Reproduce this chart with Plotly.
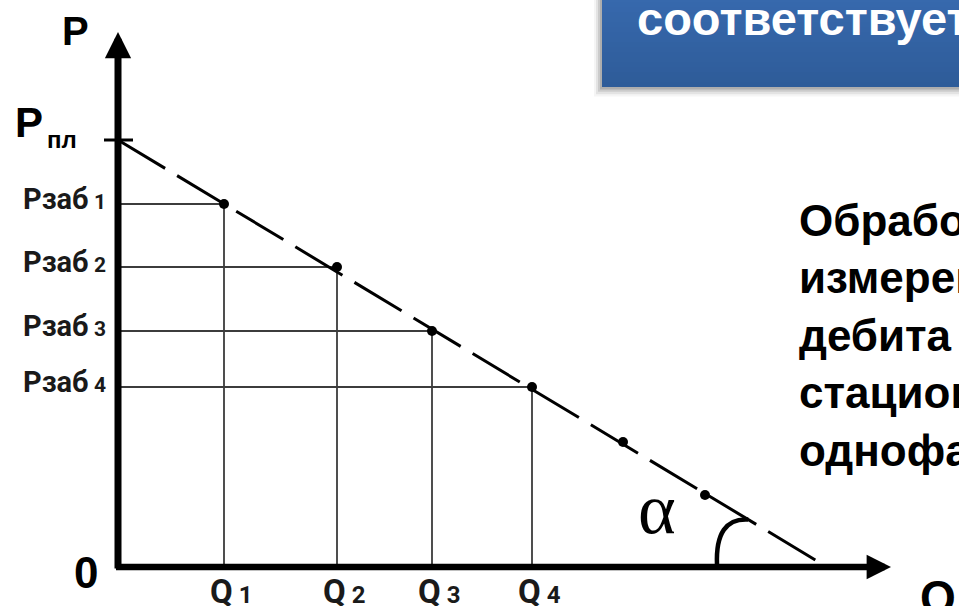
import plotly.graph_objects as go

# Indicator diagram: bottom-hole pressure vs. flow rate
q_points = [1.06, 2.19, 3.14, 4.14, 5.05, 5.87]
p_points = [3.63, 3.00, 2.36, 1.80, 1.25, 0.72]
p_res = 4.27          # reservoir pressure (intercept on P axis)
q_zero = 7.09         # flow rate where the line meets the Q axis
n_marked = 4          # points with projection lines and labels

p_labels = ["Рзаб", "Рзаб", "Рзаб", "Рзаб"]
p_label_idx = ["1", "2", "3", "4"]
q_label_idx = ["1", "2", "3", "4"]

side_lines = ["Обработка", "измерений", "дебита", "стационарной", "однофазной"]
header_text = "соответствует"

X_RANGE = [-1.18, 8.41]
Y_RANGE = [-0.39, 5.67]

fig = go.Figure()

# projection lines to the axes
for q, p in zip(q_points[:n_marked], p_points[:n_marked]):
    fig.add_trace(go.Scatter(x=[0, q, q], y=[p, p, 0], mode="lines",
                             line=dict(color="#3c3c3c", width=1.8),
                             hoverinfo="skip", showlegend=False))

# dashed regression line
fig.add_trace(go.Scatter(x=[0, q_zero], y=[p_res, 0], mode="lines",
                         line=dict(color="black", width=3, dash="55px,14px"),
                         hoverinfo="skip", showlegend=False))

# measured points
fig.add_trace(go.Scatter(x=q_points, y=p_points, mode="markers",
                         marker=dict(color="black", size=10),
                         hoverinfo="skip", showlegend=False))

shapes = []
annotations = []

# header box with soft shadow and vertical gradient
for i, a in enumerate([0.04, 0.07, 0.10, 0.14]):
    off = (4 - i) * 0.02
    shapes.append(dict(type="rect", xref="x", yref="y", layer="below",
                       x0=4.84 - off, x1=8.6, y0=4.80 - off * 1.2, y1=6.0,
                       fillcolor=f"rgba(0,0,0,{a})", line_width=0))
top_c = (0x3a, 0x6d, 0xb4)
bot_c = (0x2e, 0x5c, 0x99)
n_band = 24
for i in range(n_band):
    t = i / (n_band - 1)
    c = tuple(round(bot_c[k] + (top_c[k] - bot_c[k]) * t) for k in range(3))
    y0 = 4.80 + (6.0 - 4.80) * i / n_band
    y1 = 4.80 + (6.0 - 4.80) * (i + 1) / n_band
    shapes.append(dict(type="rect", xref="x", yref="y", layer="below",
                       x0=4.84, x1=8.6, y0=y0, y1=y1 + 0.005,
                       fillcolor="rgb(%d,%d,%d)" % c, line_width=0))

# axes: lines with arrow heads
annotations.append(dict(x=0, y=5.35, ax=0, ay=-0.03, xref="x", yref="y",
                        axref="x", ayref="y", text="", showarrow=True,
                        arrowhead=2, arrowsize=0.75, arrowwidth=7, arrowcolor="black"))
annotations.append(dict(x=7.73, y=0, ax=-0.035, ay=0, xref="x", yref="y",
                        axref="x", ayref="y", text="", showarrow=True,
                        arrowhead=2, arrowsize=0.75, arrowwidth=6.5, arrowcolor="black"))

# tick at reservoir pressure
shapes.append(dict(type="line", xref="x", yref="y", x0=-0.14, x1=0.15,
                   y0=p_res, y1=p_res, line=dict(color="black", width=3)))

# angle arc between the line and the Q axis
r0 = 1.10
r1 = 0.92
L = (q_zero ** 2 + p_res ** 2) ** 0.5
ex = q_zero - r1 * q_zero / L
ey = r1 * p_res / L
sx = q_zero - r0
shapes.append(dict(type="path", xref="x", yref="y",
                   path=f"M {sx:.3f},0.02 Q {sx - 0.02:.3f},{ey + 0.02:.3f} {ex:.3f},{ey:.3f}",
                   line=dict(color="black", width=4.5)))

label_font = "Roboto, Noto Sans, sans-serif"
arial = "Liberation Sans, Arial, sans-serif"

# P-axis labels
for p, name, idx in zip(p_points[:n_marked], p_labels, p_label_idx):
    annotations.append(dict(x=-0.10, y=p + 0.05, xref="x", yref="y",
                            xanchor="right", yanchor="middle", showarrow=False,
                            text=f"<b>{name}<span style='font-size:21px'> {idx}</span></b>",
                            font=dict(family=label_font, size=29, color="#1a1a1a")))

# Q-axis labels
for q, idx in zip(q_points[:n_marked], q_label_idx):
    annotations.append(dict(x=q + 0.07, y=-0.245, xref="x", yref="y",
                            xanchor="center", yanchor="middle", showarrow=False,
                            text=f"<b>Q<span style='font-size:24px'> {idx}</span></b>",
                            font=dict(family=label_font, size=33, color="#1a1a1a")))

annotations += [
    dict(x=-0.43, y=5.36, text="<b>P</b>", font=dict(family=arial, size=40, color="black")),
    dict(x=-0.89, y=4.45, text="<b>P</b>", font=dict(family=arial, size=42, color="black")),
    dict(x=-0.56, y=4.28, text="<b>пл</b>", font=dict(family=arial, size=24, color="black")),
    dict(x=-0.32, y=-0.05, text="<b>0</b>", font=dict(family=arial, size=44, color="black")),
    dict(x=8.20, y=-0.30, text="<b>Q</b>", font=dict(family=arial, size=46, color="black")),
    dict(x=5.39, y=0.58, text="α",
         font=dict(family="Liberation Serif, DejaVu Serif, serif", size=72, color="black")),
]
for a in annotations[-6:]:
    a.update(xref="x", yref="y", showarrow=False, xanchor="center", yanchor="middle")

# header text
annotations.append(dict(x=5.17, y=5.49, xref="x", yref="y", xanchor="left",
                        yanchor="middle", showarrow=False, text=f"<b>{header_text}</b>",
                        font=dict(family=arial, size=47, color="white")))

# side text
for i, line in enumerate(side_lines):
    annotations.append(dict(x=6.79, y=3.47 - i * 0.575, xref="x", yref="y",
                            xanchor="left", yanchor="middle", showarrow=False,
                            text=f"<b>{line}</b>",
                            font=dict(family=arial, size=44, color="black")))

fig.update_layout(
    width=959, height=606,
    margin=dict(l=0, r=0, t=0, b=0),
    paper_bgcolor="white", plot_bgcolor="white",
    xaxis=dict(range=X_RANGE, visible=False, fixedrange=True),
    yaxis=dict(range=Y_RANGE, visible=False, fixedrange=True),
    shapes=shapes, annotations=annotations,
    showlegend=False,
)

fig.write_html("out.html", config={"displayModeBar": False})
